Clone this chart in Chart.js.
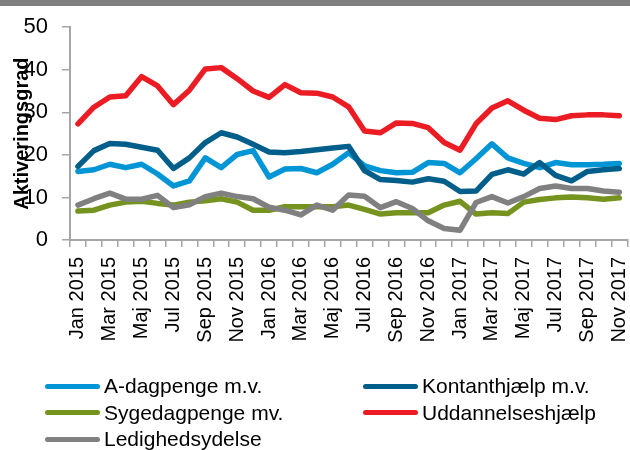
<!DOCTYPE html>
<html>
<head>
<meta charset="utf-8">
<script src="https://cdn.jsdelivr.net/npm/chart.js@4/dist/chart.umd.min.js"></script>
<style>
  html, body { margin: 0; padding: 0; background: #fff; }
  #wrap { position: relative; width: 630px; height: 450px; overflow: hidden; }
  #topbar { position: absolute; left: 0; top: 0; width: 630px; height: 6px; background: #808080; }
  #c { position: absolute; left: 0; top: 0; }
  #legend { position: absolute; left: 0; top: 373px; width: 630px; font-family: "Liberation Sans", Arial, sans-serif; font-size: 21px; color: #000; }
  .item { position: absolute; height: 26px; display: flex; align-items: center; white-space: nowrap; }
  .swatch { width: 55px; height: 5px; border-radius: 3px; margin-right: 4px; }
</style>
</head>
<body>
<div id="wrap">
  <canvas id="c" width="630" height="450"></canvas>
  <div id="topbar"></div>
  <div id="legend"></div>
</div>
<script>
const months = [
  "Jan 2015","Feb 2015","Mar 2015","Apr 2015","Maj 2015","Jun 2015","Jul 2015","Aug 2015","Sep 2015","Okt 2015","Nov 2015","Dec 2015",
  "Jan 2016","Feb 2016","Mar 2016","Apr 2016","Maj 2016","Jun 2016","Jul 2016","Aug 2016","Sep 2016","Okt 2016","Nov 2016","Dec 2016",
  "Jan 2017","Feb 2017","Mar 2017","Apr 2017","Maj 2017","Jun 2017","Jul 2017","Aug 2017","Sep 2017","Okt 2017","Nov 2017"
];
const aDagpenge = [16.1,16.5,17.8,17.0,17.8,15.5,12.7,13.9,19.3,17.0,20.1,21.0,14.8,16.7,16.8,15.8,17.8,20.5,17.4,16.3,15.8,15.9,18.2,18.0,15.8,19.1,22.6,19.3,18.0,17.0,18.2,17.7,17.7,17.8,18.0];
const kontanthjaelp = [17.3,21.0,22.7,22.5,21.8,21.1,16.8,19.3,22.9,25.2,24.2,22.5,20.7,20.5,20.8,21.2,21.6,22.0,16.3,14.2,14.0,13.6,14.4,13.8,11.4,11.5,15.4,16.5,15.5,18.2,15.2,13.9,16.1,16.5,16.8];
const sygedagpenge = [6.8,7.0,8.2,8.9,9.1,8.6,8.2,8.9,9.2,9.7,8.9,7.0,7.0,7.8,7.8,7.8,7.8,8.2,7.2,6.1,6.4,6.4,6.4,8.2,9.1,6.1,6.4,6.2,8.9,9.5,9.9,10.1,9.9,9.6,9.9];
const uddannelseshjaelp = [27.3,31.2,33.6,33.9,38.4,36.2,31.8,35.2,40.2,40.5,37.9,35.0,33.5,36.5,34.6,34.5,33.6,31.3,25.6,25.2,27.5,27.4,26.4,22.9,21.1,27.3,31.0,32.7,30.5,28.6,28.3,29.2,29.4,29.4,29.2];
const ledighedsydelse = [8.2,9.7,11.0,9.6,9.6,10.5,7.6,8.3,10.2,11.0,10.2,9.7,7.7,7.0,5.9,8.2,7.0,10.6,10.3,7.6,9.0,7.4,4.5,2.7,2.3,8.8,10.2,8.7,10.2,12.1,12.7,12.1,12.1,11.5,11.2];
const seriesNames = ["A-dagpenge m.v.","Kontanthjælp m.v.","Sygedagpenge mv.","Uddannelseshjælp","Ledighedsydelse"];
const seriesColors = ["#0096D6","#005F8A","#76931F","#EC1C24","#808080"];
const yTicks = [0,10,20,30,40,50];
const yTitle = "Aktiveringsgrad";

const values = [aDagpenge, kontanthjaelp, sygedagpenge, uddannelseshjaelp, ledighedsydelse];
const drawOrder = [4, 1, 3, 2, 0];

const FONT = '"Liberation Sans", Arial, sans-serif';
const TARGET_TOP = 20;

const datasets = seriesNames.map((name, i) => ({
  label: name,
  data: values[i],
  borderColor: seriesColors[i],
  backgroundColor: seriesColors[i],
  borderWidth: 5.5,
  pointRadius: 0,
  pointHoverRadius: 0,
  tension: 0,
  fill: false,
  borderJoinStyle: 'round',
  borderCapStyle: 'round',
  order: drawOrder[i]
}));

const titlePlugin = {
  id: 'yTitle',
  afterDraw(chart) {
    const ctx = chart.ctx;
    const a = chart.chartArea;
    ctx.save();
    ctx.translate(28, (a.top + a.bottom) / 2);
    ctx.rotate(-Math.PI / 2);
    ctx.font = 'bold 20px ' + FONT;
    ctx.fillStyle = '#000';
    ctx.textAlign = 'center';
    ctx.textBaseline = 'alphabetic';
    ctx.fillText(yTitle, 0, 0);
    ctx.restore();
  }
};

const chart = new Chart(document.getElementById('c'), {
  type: 'line',
  data: { labels: months, datasets },
  options: {
    responsive: false,
    animation: false,
    layout: { padding: { top: TARGET_TOP, left: 0, right: 0, bottom: 0 } },
    plugins: { legend: { display: false }, tooltip: { enabled: false } },
    scales: {
      x: {
        type: 'category',
        offset: true,
        grid: { display: true, offset: true, drawOnChartArea: false, drawTicks: true, tickLength: 7, color: '#A6A6A6', lineWidth: 1.5 },
        border: { display: true, color: '#A6A6A6', width: 2 },
        ticks: {
          autoSkip: false,
          minRotation: 90,
          maxRotation: 90,
          padding: 10,
          color: '#000',
          font: { family: FONT, size: 20 },
          callback: function(v, i) { return i % 2 === 0 ? this.getLabelForValue(v) : ''; }
        },
        afterFit(scale) { scale.height = 210; scale.paddingLeft = 0; scale.paddingRight = 0; }
      },
      y: {
        min: 0,
        max: 50,
        afterBuildTicks(scale) { scale.ticks = yTicks.map(v => ({ value: v })); },
        grid: { display: true, drawOnChartArea: false, drawTicks: true, tickLength: 8, color: '#A6A6A6', lineWidth: 1.5 },
        border: { display: true, color: '#A6A6A6', width: 2 },
        ticks: { padding: 14, color: '#000', font: { family: FONT, size: 22 } },
        afterFit(scale) { scale.width = 70; }
      }
    }
  },
  plugins: [titlePlugin]
});

const diff = chart.chartArea.top - TARGET_TOP;
if (Math.abs(diff) > 0.5) {
  chart.options.layout.padding.top = TARGET_TOP - diff;
  chart.update();
}

const legendPos = [[45, 0], [363, 0], [45, 1], [363, 1], [45, 2]];
const leg = document.getElementById('legend');
seriesNames.forEach((name, i) => {
  const it = document.createElement('div');
  it.className = 'item';
  it.style.left = legendPos[i][0] + 'px';
  it.style.top = (legendPos[i][1] * 26.5) + 'px';
  const sw = document.createElement('span');
  sw.className = 'swatch';
  sw.style.background = seriesColors[i];
  const tx = document.createElement('span');
  tx.textContent = name;
  it.appendChild(sw); it.appendChild(tx);
  leg.appendChild(it);
});
</script>
</body>
</html>
